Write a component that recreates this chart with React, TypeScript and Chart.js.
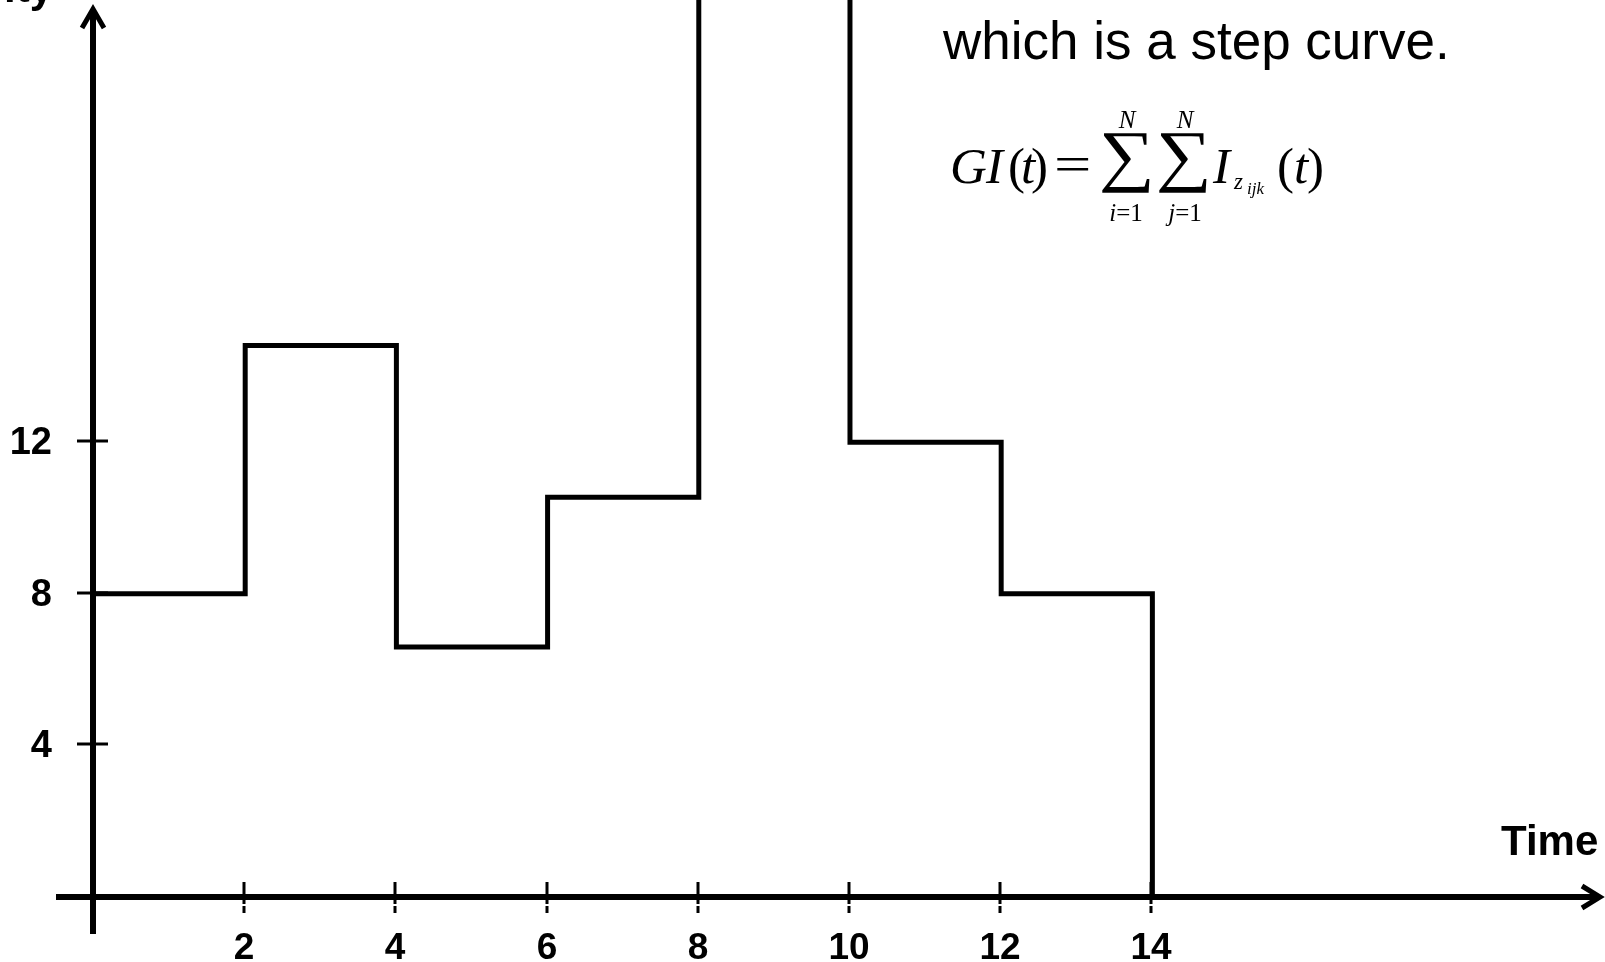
import React, { useEffect, useRef } from "react";
import { Chart, registerables } from "chart.js";

Chart.register(...registerables);

// ---- data ----
const times = [0, 2, 4, 6, 8, 10, 12, 14];
const intensity = [8, 14.55, 6.6, 10.55, 26, 12, 8, 0];
const xTickValues = [2, 4, 6, 8, 10, 12, 14];
const yTickValues = [4, 8, 12];
const xAxisTitle = "Time";
const yAxisTitle = "Intensity";
const noteText = "which is a step curve.";

const X_MAX = 19.9;
const Y_MAX = 23.67;

const SANS = '"Liberation Sans", Arial, sans-serif';
const SERIF = '"Liberation Serif", "Times New Roman", serif';

type Run = { s: string; font: string };

function runsWidth(ctx: CanvasRenderingContext2D, runs: Run[]) {
  let w = 0;
  for (const r of runs) {
    ctx.font = r.font;
    w += ctx.measureText(r.s).width;
  }
  return w;
}

function drawRuns(ctx: CanvasRenderingContext2D, runs: Run[], x: number, y: number, center = false) {
  let cx = center ? x - runsWidth(ctx, runs) / 2 : x;
  ctx.textAlign = "left";
  ctx.textBaseline = "alphabetic";
  for (const r of runs) {
    ctx.font = r.font;
    ctx.fillText(r.s, cx, y);
    cx += ctx.measureText(r.s).width;
  }
}

function drawFitBox(
  ctx: CanvasRenderingContext2D,
  s: string,
  family: string,
  left: number,
  right: number,
  top: number,
  bottom: number
) {
  ctx.save();
  ctx.font = `100px ${family}`;
  const m = ctx.measureText(s);
  const h = m.actualBoundingBoxAscent + m.actualBoundingBoxDescent;
  const w = m.actualBoundingBoxLeft + m.actualBoundingBoxRight;
  const sy = (bottom - top) / h;
  const sx = (right - left) / w;
  ctx.translate(left, top);
  ctx.scale(sx, sy);
  ctx.textAlign = "left";
  ctx.textBaseline = "alphabetic";
  ctx.fillText(s, m.actualBoundingBoxLeft, m.actualBoundingBoxAscent);
  ctx.restore();
}

const axesPlugin = {
  id: "arrowAxes",
  afterDatasetsDraw(chart: any) {
    const ctx: CanvasRenderingContext2D = chart.ctx;
    const xs = chart.scales.x;
    const ys = chart.scales.y;
    const x0 = xs.getPixelForValue(0) - 1;
    const y0 = ys.getPixelForValue(0);
    ctx.save();
    ctx.strokeStyle = "#000";
    ctx.fillStyle = "#000";
    ctx.lineCap = "butt";
    ctx.lineJoin = "miter";

    // axes
    ctx.lineWidth = 6;
    ctx.beginPath();
    ctx.moveTo(56, y0);
    ctx.lineTo(1599, y0);
    ctx.stroke();
    ctx.beginPath();
    ctx.moveTo(x0, 934);
    ctx.lineTo(x0, 10);
    ctx.stroke();
    // arrow heads
    ctx.lineWidth = 5;
    ctx.beginPath();
    ctx.moveTo(1582, y0 - 11);
    ctx.lineTo(1600, y0);
    ctx.lineTo(1582, y0 + 11);
    ctx.stroke();
    ctx.beginPath();
    ctx.moveTo(x0 - 11, 28);
    ctx.lineTo(x0, 9);
    ctx.lineTo(x0 + 11, 28);
    ctx.stroke();

    // y ticks
    ctx.lineWidth = 3;
    for (const v of yTickValues) {
      const y = Math.round(ys.getPixelForValue(v)) - 1;
      ctx.beginPath();
      ctx.moveTo(77, y);
      ctx.lineTo(108, y);
      ctx.stroke();
      ctx.font = `bold 38px ${SANS}`;
      ctx.textAlign = "right";
      ctx.textBaseline = "middle";
      ctx.fillText(String(v), 52, y + 3);
    }
    // x ticks
    for (const v of xTickValues) {
      const x = Math.round(xs.getPixelForValue(v)) - 1;
      ctx.beginPath();
      ctx.moveTo(x, 882);
      ctx.lineTo(x, 904);
      ctx.moveTo(x, 906);
      ctx.lineTo(x, 913);
      ctx.stroke();
      ctx.font = `bold 37px ${SANS}`;
      ctx.textAlign = "center";
      ctx.textBaseline = "alphabetic";
      ctx.fillText(String(v), x, 959);
    }

    // axis titles
    ctx.font = `bold 42px ${SANS}`;
    ctx.textAlign = "left";
    ctx.textBaseline = "alphabetic";
    ctx.fillText(xAxisTitle, 1501, 855);
    ctx.font = `bold 42px ${SANS}`;
    ctx.textAlign = "right";
    ctx.fillText(yAxisTitle, 53, 2);

    // note
    ctx.font = `53px ${SANS}`;
    ctx.textAlign = "left";
    ctx.fillText(noteText, 943, 59);

    // formula
    const it50 = `italic 51px ${SERIF}`;
    const up50 = `51px ${SERIF}`;
    const it24 = `italic 25px ${SERIF}`;
    const up24 = `25px ${SERIF}`;
    drawRuns(ctx, [{ s: "G", font: it50 }], 950, 183);
    drawRuns(ctx, [{ s: "I", font: it50 }], 986, 183);
    drawRuns(ctx, [{ s: "(", font: up50 }], 1008, 183);
    drawRuns(ctx, [{ s: "t", font: it50 }], 1021, 183);
    drawRuns(ctx, [{ s: ")", font: up50 }], 1031, 183);
    ctx.save();
    ctx.translate(1054, 0);
    ctx.scale(1.3, 1);
    drawRuns(ctx, [{ s: "=", font: up50 }], 0, 181);
    ctx.restore();
    drawFitBox(ctx, "\u2211", SERIF, 1102, 1150, 133, 193);
    drawFitBox(ctx, "\u2211", SERIF, 1159, 1207, 133, 193);
    drawRuns(ctx, [{ s: "N", font: it24 }], 1127, 128, true);
    drawRuns(ctx, [{ s: "N", font: it24 }], 1185, 128, true);
    drawRuns(ctx, [{ s: "i", font: it24 }, { s: "=1", font: up24 }], 1126, 221, true);
    drawRuns(ctx, [{ s: "j", font: it24 }, { s: "=1", font: up24 }], 1185, 221, true);
    drawRuns(ctx, [{ s: "I", font: it50 }], 1213, 183);
    drawRuns(ctx, [{ s: "z", font: `italic 23px ${SERIF}` }], 1234, 189);
    drawRuns(ctx, [{ s: "ijk", font: `italic 17px ${SERIF}` }], 1247, 194);
    drawRuns(ctx, [{ s: "(", font: up50 }], 1277, 183);
    drawRuns(ctx, [{ s: "t", font: it50 }], 1294, 183);
    drawRuns(ctx, [{ s: ")", font: up50 }], 1307, 183);

    ctx.restore();
  },
};

export default function App() {
  const canvasRef = useRef<HTMLCanvasElement | null>(null);

  useEffect(() => {
    const canvas = canvasRef.current;
    if (!canvas) return;
    const chart = new Chart(canvas, {
      type: "line",
      data: {
        datasets: [
          {
            label: "GI(t)",
            data: times.map((t, i) => ({ x: t, y: intensity[i] })),
            stepped: "before",
            borderColor: "#000",
            backgroundColor: "#000",
            borderWidth: 5,
            pointRadius: 0,
            fill: false,
            borderJoinStyle: "miter",
            borderCapStyle: "butt",
          } as any,
        ],
      },
      options: {
        animation: false,
        responsive: true,
        maintainAspectRatio: false,
        devicePixelRatio: 1,
        layout: { padding: { left: 94, right: 6.6, top: 0, bottom: 65 } },
        scales: {
          x: { type: "linear", min: 0, max: X_MAX, display: false },
          y: { type: "linear", min: 0, max: Y_MAX, display: false },
        },
        plugins: {
          legend: { display: false },
          tooltip: { enabled: false },
          title: { display: false },
        },
        events: [],
      },
      plugins: [axesPlugin],
    });
    return () => chart.destroy();
  }, []);

  return (
    <div
      style={{
        position: "fixed",
        left: 0,
        top: 0,
        width: "1605px",
        height: "962px",
        background: "#fff",
      }}
    >
      <canvas ref={canvasRef} />
    </div>
  );
}
